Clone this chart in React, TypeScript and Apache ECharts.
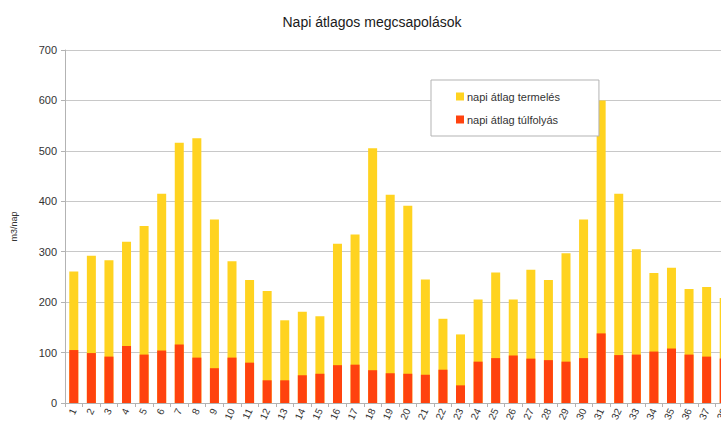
import React, { useEffect, useRef } from "react";
import * as echarts from "echarts";

const days = [
  "1", "2", "3", "4", "5", "6", "7", "8", "9", "10",
  "11", "12", "13", "14", "15", "16", "17", "18", "19", "20",
  "21", "22", "23", "24", "25", "26", "27", "28", "29", "30",
  "31", "32", "33", "34", "35", "36", "37", "38",
];

// total height of each bar (napi átlag termelés)
const termeles = [
  261, 292, 283, 320, 351, 415, 516, 525, 364, 281,
  244, 222, 164, 181, 172, 316, 334, 505, 413, 391,
  245, 167, 136, 205, 259, 205, 264, 244, 297, 364,
  600, 415, 305, 258, 268, 226, 230, 208,
];

// napi átlag túlfolyás
const tulfolyas = [
  105, 99, 92, 113, 96, 104, 116, 90, 69, 90,
  80, 45, 45, 55, 58, 75, 76, 65, 59, 58,
  56, 66, 35, 82, 89, 94, 88, 85, 82, 89,
  138, 95, 96, 102, 108, 96, 92, 88,
];

const yTicks = { min: 0, max: 700, interval: 100 };

const FONT = "'Liberation Sans', Arial, sans-serif";

export default function App() {
  const ref = useRef<HTMLDivElement>(null);

  useEffect(() => {
    if (!ref.current) return;
    const chart = echarts.init(ref.current, undefined, { renderer: "svg" });
    chart.setOption({
      animation: false,
      backgroundColor: "#ffffff",
      textStyle: { fontFamily: FONT },
      title: {
        text: "Napi átlagos megcsapolások",
        left: 367,
        textAlign: "center",
        top: 10,
        textStyle: { fontFamily: FONT, fontSize: 14, fontWeight: "normal", color: "#1a1a1a" },
      },
      legend: {
        orient: "vertical",
        left: 431,
        top: 80,
        padding: [11, 39, 11, 25],
        itemWidth: 8,
        itemHeight: 8,
        itemGap: 12,
        icon: "rect",
        borderColor: "#b3b3b3",
        borderWidth: 1,
        backgroundColor: "#ffffff",
        textStyle: { fontFamily: FONT, fontSize: 11, color: "#333333", padding: [0, 0, 0, -2] },
        data: ["napi átlag termelés", "napi átlag túlfolyás"],
      },
      grid: { left: 65, top: 50, right: 27, bottom: 22 },
      xAxis: {
        type: "category",
        data: days,
        boundaryGap: true,
        axisLine: { show: true, lineStyle: { color: "#b3b3b3" } },
        axisTick: { show: true, length: 4, lineStyle: { color: "#b3b3b3" } },
        axisLabel: {
          rotate: 65,
          fontSize: 10,
          color: "#333333",
          margin: 6,
          interval: 0,
          fontFamily: FONT,
        },
      },
      yAxis: {
        type: "value",
        min: yTicks.min,
        max: yTicks.max,
        interval: yTicks.interval,
        name: "m3/nap",
        nameLocation: "middle",
        nameGap: 47,
        nameTextStyle: { fontSize: 9, color: "#333333", fontFamily: FONT },
        axisLine: { show: true, lineStyle: { color: "#b3b3b3" } },
        axisTick: { show: true, length: 4, lineStyle: { color: "#b3b3b3" } },
        axisLabel: { fontSize: 11, color: "#333333", margin: 8, fontFamily: FONT },
        splitLine: { show: true, lineStyle: { color: "#c8c8c8" } },
      },
      series: [
        {
          name: "napi átlag termelés",
          type: "bar",
          data: termeles,
          barWidth: 9,
          barGap: "-100%",
          itemStyle: { color: "#ffd320" },
          z: 2,
        },
        {
          name: "napi átlag túlfolyás",
          type: "bar",
          data: tulfolyas,
          barWidth: 9,
          barGap: "-100%",
          itemStyle: { color: "#ff420e" },
          z: 3,
        },
      ],
    });
    return () => chart.dispose();
  }, []);

  return (
    <div
      style={{
        position: "absolute",
        left: 0,
        top: 0,
        width: 721,
        height: 425,
        overflow: "hidden",
        background: "#fff",
      }}
    >
      <div ref={ref} style={{ width: 760, height: 425 }} />
    </div>
  );
}
